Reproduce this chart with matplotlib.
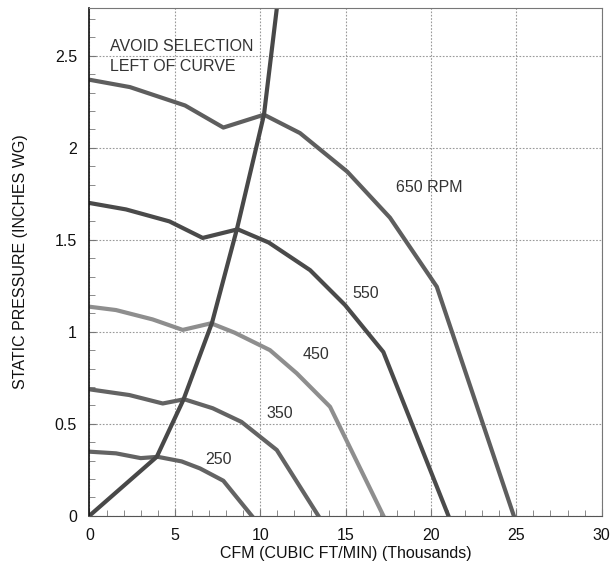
import matplotlib
matplotlib.use("Agg")
import matplotlib.pyplot as plt
from matplotlib.ticker import MultipleLocator

plt.rcParams['font.family'] = ['Liberation Sans', 'DejaVu Sans']

# fan curves, CFM in thousands vs static pressure (in. WG)
cfm_650 = [0, 2.37, 5.6, 7.84, 10.22, 12.33, 15.1, 17.6, 20.34, 24.85]
sp_650 = [2.37, 2.33, 2.23, 2.11, 2.18, 2.08, 1.87, 1.62, 1.245, 0]

cfm_550 = [0, 2.14, 4.68, 6.63, 8.68, 10.5, 12.92, 14.97, 17.21, 21.02]
sp_550 = [1.70, 1.665, 1.60, 1.51, 1.557, 1.485, 1.335, 1.145, 0.89, 0]

cfm_450 = [0, 1.55, 3.70, 5.46, 7.12, 8.5, 10.57, 12.14, 14.09, 17.21]
sp_450 = [1.136, 1.118, 1.067, 1.01, 1.046, 0.995, 0.90, 0.774, 0.592, 0]

cfm_350 = [0, 2.33, 4.29, 5.55, 7.22, 8.9, 10.97, 13.4]
sp_350 = [0.687, 0.656, 0.61, 0.633, 0.584, 0.51, 0.357, 0]

cfm_250 = [0, 1.55, 3.0, 4.0, 5.4, 6.47, 7.84, 9.5]
sp_250 = [0.348, 0.339, 0.313, 0.32, 0.295, 0.257, 0.19, 0]

# system curve (avoid selection left of it)
cfm_sys = [0, 3.94, 5.5, 7.18, 8.64, 10.22, 11.0]
sp_sys = [0, 0.32, 0.63, 1.05, 1.56, 2.18, 2.78]

rpm_labels = ["650 RPM", "550", "450", "350", "250"]
label_x = [19.89, 16.17, 13.24, 11.12, 7.57]
label_y = [1.785, 1.209, 0.879, 0.556, 0.303]

fig = plt.figure(figsize=(6.1, 5.76), dpi=100)
ax = fig.add_axes([0.1467, 0.1047, 0.8397, 0.8814])

ax.plot(cfm_650, sp_650, color='#5e5e5e', lw=3.0, solid_joinstyle='round')
ax.plot(cfm_550, sp_550, color='#4a4a4a', lw=3.0, solid_joinstyle='round')
ax.plot(cfm_450, sp_450, color='#8e8e8e', lw=3.0, solid_joinstyle='round')
ax.plot(cfm_350, sp_350, color='#636363', lw=3.0, solid_joinstyle='round')
ax.plot(cfm_250, sp_250, color='#636363', lw=3.0, solid_joinstyle='round')
ax.plot(cfm_sys, sp_sys, color='#484848', lw=3.0, solid_joinstyle='round')

for t, x, y in zip(rpm_labels, label_x, label_y):
    ax.text(x, y, t, fontsize=11.5, color='#333333', ha='center', va='center')

ax.text(1.2, 2.589, "AVOID SELECTION\nLEFT OF CURVE", fontsize=11.5,
        color='#333333', ha='left', va='top', linespacing=1.4)

ax.set_xlim(0, 30)
ax.set_ylim(0, 2.76)
ax.xaxis.set_major_locator(MultipleLocator(5))
ax.xaxis.set_minor_locator(MultipleLocator(1))
ax.yaxis.set_major_locator(MultipleLocator(0.5))
ax.yaxis.set_minor_locator(MultipleLocator(0.1))
ax.set_yticks([0, 0.5, 1, 1.5, 2, 2.5])
ax.set_yticklabels(["0", "0.5", "1", "1.5", "2", "2.5"])

ax.grid(True, which='major', color='#999999', linestyle=(0, (1.5, 1.5)), lw=0.8)
ax.tick_params(which='both', direction='in', colors='#777777', labelcolor='#111111',
               labelsize=11.5)
ax.tick_params(which='major', length=5)
ax.tick_params(which='minor', length=4)
ax.tick_params(axis='x', pad=9)
ax.tick_params(axis='y', pad=9)

for s in ['top', 'right']:
    ax.spines[s].set_color('#777777')
ax.spines['bottom'].set_color('#555555')
ax.spines['left'].set_color('#111111')
ax.spines['left'].set_linewidth(1.2)

ax.set_xlabel("CFM (CUBIC FT/MIN) (Thousands)", fontsize=11.5, color='#111111', labelpad=2)
ax.set_ylabel("STATIC PRESSURE (INCHES WG)", fontsize=11.5, color='#111111', labelpad=19)

fig.savefig("out.png", dpi=100)
